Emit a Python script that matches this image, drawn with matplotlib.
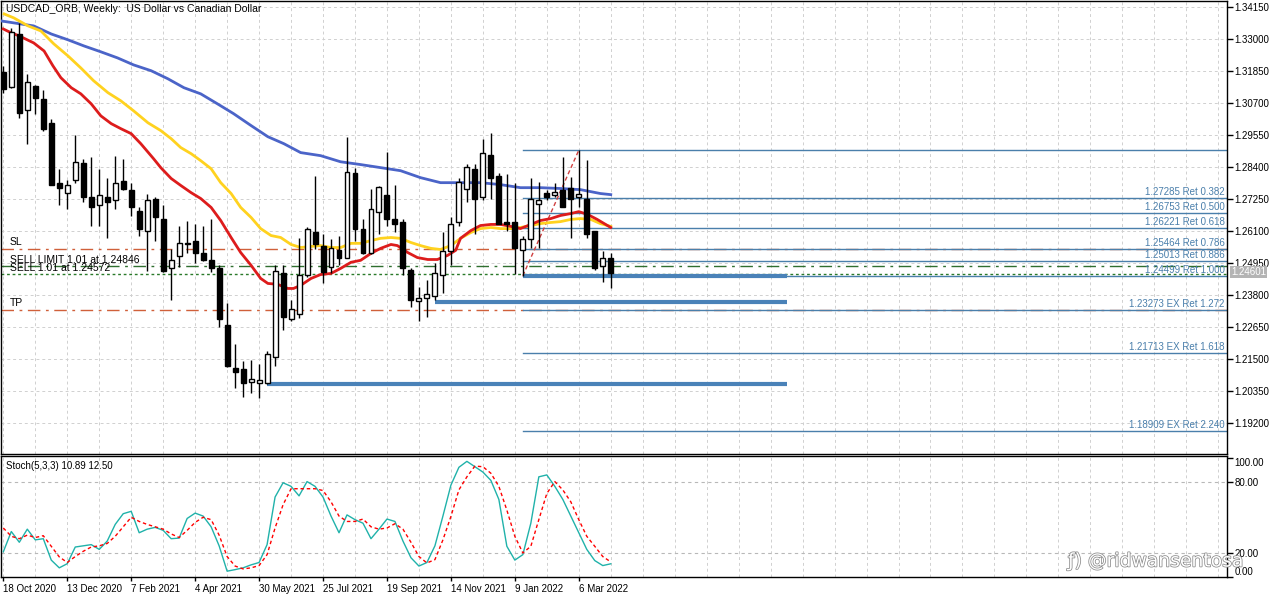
import matplotlib
matplotlib.use('Agg')
import matplotlib.pyplot as plt
from matplotlib.patches import Rectangle
import matplotlib.patheffects as pe

plt.rcParams['font.family'] = ['Liberation Sans', 'DejaVu Sans']

# ---------------- data ----------------
opens = [1.3182, 1.3128, 1.3318, 1.3046, 1.3132, 1.3085, 1.2999, 1.2781, 1.2748, 1.2795,
         1.2856, 1.2731, 1.2702, 1.2734, 1.2723, 1.2791, 1.2759, 1.2684, 1.2612, 1.2727,
         1.2655, 1.2476, 1.2519, 1.2569, 1.2573, 1.2533, 1.2505, 1.2476, 1.2272, 1.2118,
         1.2114, 1.2067, 1.2064, 1.2064, 1.2157, 1.2458, 1.2293, 1.2311, 1.2451, 1.2605,
         1.2555, 1.2480, 1.2541, 1.2515, 1.2820, 1.2619, 1.2530, 1.2677, 1.2738, 1.2652,
         1.2644, 1.2472, 1.2358, 1.2369, 1.2376, 1.2451, 1.2537, 1.2641, 1.2763, 1.2834,
         1.2731, 1.2885, 1.2809, 1.2641, 1.2644, 1.2541, 1.2580, 1.2709, 1.2748, 1.2738,
         1.2756, 1.2766, 1.2731, 1.2727, 1.2609, 1.2483, 1.2515]
highs = [1.3204, 1.3340, 1.3358, 1.3175, 1.3135, 1.3118, 1.3014, 1.2834, 1.2795, 1.2956,
         1.2870, 1.2877, 1.2834, 1.2799, 1.2881, 1.2870, 1.2781, 1.2695, 1.2745, 1.2734,
         1.2702, 1.2544, 1.2630, 1.2648, 1.2634, 1.2627, 1.2655, 1.2487, 1.2351, 1.2204,
         1.2143, 1.2146, 1.2132, 1.2179, 1.2487, 1.2487, 1.2361, 1.2587, 1.2625, 1.2809,
         1.2601, 1.2580, 1.2591, 1.2949, 1.2838, 1.2655, 1.2763, 1.2773, 1.2895, 1.2777,
         1.2655, 1.2476, 1.2408, 1.2433, 1.2494, 1.2605, 1.2662, 1.2802, 1.2852, 1.2852,
         1.2942, 1.2963, 1.2820, 1.2816, 1.2784, 1.2594, 1.2799, 1.2788, 1.2759, 1.2781,
         1.2877, 1.2806, 1.29007, 1.2867, 1.2612, 1.2537, 1.2530]
lows = [1.3107, 1.3125, 1.3017, 1.2924, 1.3032, 1.2971, 1.2774, 1.2705, 1.2688, 1.2784,
        1.2713, 1.2627, 1.2627, 1.2587, 1.2688, 1.2759, 1.2666, 1.2591, 1.2465, 1.2573,
        1.2462, 1.2361, 1.2480, 1.2530, 1.2494, 1.2501, 1.2462, 1.2265, 1.2121, 1.2046,
        1.2014, 1.2028, 1.2010, 1.2060, 1.2125, 1.2254, 1.2286, 1.2297, 1.2444, 1.2544,
        1.2422, 1.2458, 1.2487, 1.2512, 1.2576, 1.2526, 1.2526, 1.2601, 1.2630, 1.2605,
        1.2451, 1.2336, 1.2286, 1.2300, 1.2361, 1.2386, 1.2487, 1.2627, 1.2713, 1.2601,
        1.2720, 1.2727, 1.2634, 1.2612, 1.2455, 1.24499, 1.2551, 1.2551, 1.2720, 1.2734,
        1.2695, 1.2587, 1.2695, 1.2587, 1.2469, 1.2426, 1.2404]
closes = [1.3121, 1.3325, 1.3035, 1.3146, 1.3089, 1.2978, 1.2777, 1.2766, 1.2777, 1.2860,
          1.2731, 1.2695, 1.2741, 1.2716, 1.2784, 1.2763, 1.2698, 1.2619, 1.2723, 1.2659,
          1.2465, 1.2505, 1.2566, 1.2562, 1.2533, 1.2505, 1.2476, 1.2293, 1.2125, 1.2103,
          1.2064, 1.2078, 1.2075, 1.2168, 1.2465, 1.2300, 1.2329, 1.2451, 1.2619, 1.2562,
          1.2462, 1.2551, 1.2512, 1.2824, 1.2616, 1.2530, 1.2691, 1.2770, 1.2655, 1.2637,
          1.2476, 1.2361, 1.2369, 1.2383, 1.2458, 1.2537, 1.2637, 1.2788, 1.2842, 1.2727,
          1.2892, 1.2802, 1.2637, 1.2634, 1.2548, 1.2580, 1.2727, 1.2720, 1.2731, 1.2752,
          1.2698, 1.2727, 1.2745, 1.2601, 1.2476, 1.2512, 1.24601]

red_x = [0, 1, 2, 3, 3.8, 5.1, 6.2, 7.2, 8.5, 9.7, 11, 12.2, 13.5, 14.7, 16, 17.2, 18.8, 19.7,
         21, 22.2, 23.5, 24.7, 26, 27.2, 28.5, 29.7, 31, 32.2, 33.1, 34.3, 35.6, 36.3, 37.2,
         38.5, 39.7, 41, 42.2, 43.5, 44.7, 46, 47.2, 48.5, 49.3, 50.6, 51.8, 53.1, 54.3, 55.6,
         56.6, 57.2, 58.5, 59.7, 61, 62.2, 63.5, 64.7, 66, 67.2, 68.5, 69.7, 71, 72, 73.1,
         74.3, 76]
red_p = [1.3336, 1.3322, 1.3311, 1.3297, 1.3286, 1.3257, 1.3204, 1.3161, 1.3125, 1.3103,
         1.3067, 1.3024, 1.2996, 1.2978, 1.2960, 1.2924, 1.2870, 1.2838, 1.2799, 1.2774,
         1.2748, 1.2727, 1.2695, 1.2648, 1.2587, 1.2533, 1.2487, 1.2440, 1.2422, 1.2419,
         1.2404, 1.2404, 1.2415, 1.2440, 1.2454, 1.2458, 1.2476, 1.2498, 1.2505, 1.2530,
         1.2548, 1.2562, 1.2558, 1.2533, 1.2515, 1.2508, 1.2508, 1.2523, 1.2541, 1.2584,
         1.2612, 1.2630, 1.2634, 1.2634, 1.2627, 1.2619, 1.2634, 1.2648, 1.2655, 1.2666,
         1.2673, 1.2680, 1.2670, 1.2652, 1.2623]

yel_x = [0.1, 1.3, 3.1, 4.7, 6.3, 8.1, 9.7, 11.3, 13.1, 14.7, 16.3, 18.1, 19.7, 21, 22.2,
         23.5, 24.7, 26, 27.2, 28.5, 29.7, 31, 32.2, 33.5, 34.7, 36, 37.2, 38.5, 39.7, 41,
         42.2, 43.5, 44.7, 46, 47.2, 48.5, 49.7, 51, 52.2, 53.5, 54.7, 56, 57.2, 58.5, 59.7,
         61, 62.2, 63.5, 64.7, 66, 67.2, 68.5, 69.7, 71, 72.2, 73.5, 74.7, 76]
yel_p = [1.3390, 1.3376, 1.3347, 1.3329, 1.3283, 1.3239, 1.3196, 1.3150, 1.3107, 1.3078,
         1.3042, 1.2999, 1.2971, 1.2942, 1.2910, 1.2888, 1.2863, 1.2834, 1.2784, 1.2745,
         1.2695, 1.2659, 1.2619, 1.2594, 1.2587, 1.2562, 1.2551, 1.2555, 1.2558, 1.2551,
         1.2551, 1.2566, 1.2566, 1.2576, 1.2584, 1.2587, 1.2584, 1.2569, 1.2558, 1.2548,
         1.2544, 1.2558, 1.2584, 1.2605, 1.2619, 1.2623, 1.2619, 1.2619, 1.2623, 1.2630,
         1.2637, 1.2641, 1.2644, 1.2652, 1.2655, 1.2652, 1.2637, 1.2627]

blue_x = [-0.3, 2.2, 3.8, 6, 8.1, 10.1, 12.2, 14.3, 16.3, 18.5, 20.6, 22.6, 24.7, 26.8, 28.8,
          31, 33.1, 35.1, 37.2, 39.7, 42.2, 44.7, 47.2, 49.7, 52.2, 54.7, 57.2, 59.7, 62.2,
          64.7, 67.2, 69.7, 72.2, 74.7, 76]
blue_p = [1.3365, 1.3354, 1.3347, 1.3318, 1.3297, 1.3275, 1.3254, 1.3232, 1.3207, 1.3186,
          1.3157, 1.3125, 1.3103, 1.3067, 1.3032, 1.2989, 1.2949, 1.2924, 1.2892, 1.2881,
          1.2859, 1.2849, 1.2838, 1.2827, 1.2802, 1.2784, 1.2784, 1.2784, 1.2777, 1.2766,
          1.2766, 1.2763, 1.2759, 1.2745, 1.2741]

stoch_k = [21, 38, 29, 40, 31, 32, 14, 7.5, 11, 25, 26, 27, 23, 30, 44, 53, 55, 37, 40, 41.5,
           39, 32, 32.5, 49, 53.5, 51, 42, 26, 4.7, 6, 7.5, 10, 12, 27, 67, 79, 76, 68, 80, 76,
           67, 51, 37, 52, 48, 45, 32, 40, 48.5, 46.5, 30, 16, 9, 12, 26, 51, 77, 92, 97, 92.5,
           88, 81, 65, 25.6, 14, 18.6, 45, 84, 85.6, 76, 65, 51, 37, 23, 13.6, 9.4, 10.89]
stoch_d = [41, 34, 32, 35, 33, 34.5, 25.6, 16.7, 12, 17, 21.4, 25, 26, 28, 34, 42, 50, 46.5,
           44, 42, 40, 36, 33, 39, 45.7, 50, 48, 35, 17, 9, 6.6, 7.5, 9.4, 18.6, 41, 60.5, 74,
           74, 74, 74, 72.5, 63, 51, 46.5, 46.5, 48.5, 42, 40, 41, 44.6, 40, 29, 17, 11.6, 14.4,
           31, 50.7, 73, 84, 93, 92.5, 87, 76, 56, 34, 20, 25.6, 48, 70, 80, 73, 63, 48, 34,
           25.6, 17, 12.5]

date_bars = [0, 8, 16, 24, 32, 40, 48, 56, 64, 72]
date_labels = ['18 Oct 2020', '13 Dec 2020', '7 Feb 2021', '4 Apr 2021', '30 May 2021',
               '25 Jul 2021', '19 Sep 2021', '14 Nov 2021', '9 Jan 2022', '6 Mar 2022']

price_ticks = [1.19200, 1.20350, 1.21500, 1.22650, 1.23800, 1.24950, 1.26100, 1.27250,
               1.28400, 1.29550, 1.30700, 1.31850, 1.33000, 1.34150]

fib_start_bar = 65
fib_end_bar = 72
fib_levels = [1.29007, 1.27285, 1.26753, 1.26221, 1.25464, 1.25013, 1.24499,
              1.23273, 1.21713, 1.18909]
fib_labels = ['', '1.27285 Ret 0.382', '1.26753 Ret 0.500', '1.26221 Ret 0.618',
              '1.25464 Ret 0.786', '1.25013 Ret 0.886', '1.24499 Ret 1.000',
              '1.23273 EX Ret 1.272', '1.21713 EX Ret 1.618', '1.18909 EX Ret 2.240']

thick_levels = [1.24499, 1.2354, 1.2060]
thick_start = [65, 54, 33]
thick_end = 98

sl_price = 1.25464
tp_price = 1.23273
sell_limit_price = 1.24846
sell_price = 1.24572
current_price = 1.24601

# ---------------- figure ----------------
W, H = 1280, 598
fig = plt.figure(figsize=(W / 100, H / 100), dpi=100)
fig.patch.set_facecolor('white')
ax = fig.add_axes([1 / W, 1 - 454 / H, 1226 / W, 453 / H])
ax2 = fig.add_axes([1 / W, 1 - 577 / H, 1226 / W, 121 / H])

XMIN, XMAX = -0.29, 153.1
grid_kw = dict(color='#d0d0d0', lw=0.7, ls=(0, (3, 3)), zorder=0)

# main panel
ax.set_xlim(XMIN, XMAX)
ax.set_ylim(1.18094, 1.34365)
for b in range(0, 156, 4):
    ax.axvline(b, **grid_kw)
    ax2.axvline(b, **grid_kw)
for p in price_ticks:
    ax.axhline(p, **grid_kw)

# order lines
ax.axhline(sl_price, color='#d0603a', lw=1, ls=(0, (9, 4, 2, 4)), zorder=1)
ax.axhline(tp_price, color='#d0603a', lw=1, ls=(0, (9, 4, 2, 4)), zorder=1)
ax.axhline(sell_limit_price, color='#2f6f2f', lw=1, ls=(0, (9, 4, 2, 4)), zorder=1)
ax.axhline(sell_price, color='#2a7a2a', lw=1, ls=(0, (2, 2)), zorder=1)

# fib
for lv, lb in zip(fib_levels, fib_labels):
    ax.plot([fib_start_bar, XMAX], [lv, lv], color='#4a7fab', lw=1, zorder=2)
    if lb:
        ax.text(XMAX - 0.3, lv + 0.0004, lb, ha='right', va='bottom', fontsize=7,
                color='#4a7fab', zorder=5)
ax.plot([fib_start_bar, fib_end_bar], [fib_levels[6], fib_levels[0]], color='#d04040',
        lw=1, ls=(0, (3, 2)), zorder=3)
for lv, s in zip(thick_levels, thick_start):
    ax.plot([s, thick_end], [lv, lv], color='#4a82b8', lw=3, zorder=2,
            solid_capstyle='butt')

# MAs
ax.plot(blue_x, blue_p, color='#4b64c8', lw=2, zorder=3)
ax.plot(yel_x, yel_p, color='#ffd21f', lw=2, zorder=3)
ax.plot(red_x, red_p, color='#dd1c1c', lw=2, zorder=3)

# candles
for i, (o, h, l, c) in enumerate(zip(opens, highs, lows, closes)):
    ax.plot([i, i], [l, h], color='black', lw=1, zorder=4, solid_capstyle='butt')
    bottom = min(o, c)
    height = max(abs(c - o), 0.00005)
    fc = 'white' if c > o else 'black'
    ax.add_patch(Rectangle((i - 0.31, bottom), 0.62, height, facecolor=fc,
                           edgecolor='black', lw=1, zorder=4))

ax.yaxis.tick_right()
ax.set_yticks(price_ticks)
ax.set_yticklabels(['%.5f' % p for p in price_ticks])
ax.tick_params(axis='y', direction='out', length=4, width=1, labelsize=7, pad=1.5,
               colors='black')
ax.set_xticks([])
for s in ax.spines.values():
    s.set_color('black')
    s.set_linewidth(1)

# stoch panel
ax2.set_xlim(XMIN, XMAX)
ax2.set_ylim(-0.2, 101.5)
ax2.axhline(80, color='#b8b8b8', lw=0.8, ls=(0, (3, 3)), zorder=1)
ax2.axhline(20, color='#b8b8b8', lw=0.8, ls=(0, (3, 3)), zorder=1)
bars = list(range(len(stoch_k)))
ax2.plot(bars, stoch_k, color='#20b2aa', lw=1, zorder=3)
ax2.plot(bars, stoch_d, color='#ff0000', lw=1, ls=(0, (2.5, 2)), zorder=3)
ax2.yaxis.tick_right()
ax2.set_yticks([0, 20, 80, 100])
ax2.set_yticklabels(['0.00', '20.00', '80.00', '100.00'])
ax2.tick_params(axis='y', direction='out', length=4, width=1, labelsize=7, pad=1.5)
yl = ax2.get_yticklabels()
yl[0].set_va('bottom')
yl[3].set_va('top')
ax2.set_xticks(date_bars)
ax2.set_xticklabels(date_labels)
ax2.tick_params(axis='x', direction='out', length=3, width=1, labelsize=7, pad=2)
for lbl in ax2.get_xticklabels():
    lbl.set_ha('left')
for s in ax2.spines.values():
    s.set_color('black')
    s.set_linewidth(1)

# texts
fig.text(6 / W, 1 - 9 / H, 'USDCAD_ORB, Weekly:  US Dollar vs Canadian Dollar',
         fontsize=7.5, va='center', ha='left')
fig.text(6 / W, 1 - 466 / H, 'Stoch(5,3,3) 10.89 12.50', fontsize=7, va='center', ha='left')
ax.text(0.8, sl_price + 0.0008, 'SL', fontsize=7.5, va='bottom', ha='left')
ax.text(0.8, sell_limit_price + 0.0003, 'SELL LIMIT 1.01 at 1.24846', fontsize=7.5,
        va='bottom', ha='left')
ax.text(0.8, sell_price + 0.0003, 'SELL 1.01 at 1.24572', fontsize=7.5, va='bottom', ha='left')
ax.text(0.8, tp_price + 0.0008, 'TP', fontsize=7.5, va='bottom', ha='left')

# current price box
fig.text(1231 / W, 1 - 272 / H, '%.5f' % current_price, fontsize=7, color='white',
         va='center', ha='left',
         bbox=dict(boxstyle='square,pad=0.15', facecolor='#b4b4b4', edgecolor='none'))

# watermark
fig.text(1068 / W, 1 - 561 / H, 'ƒ) @ridwansentosa', fontsize=13.5, color='white',
         va='center', ha='left', family='DejaVu Sans',
         path_effects=[pe.withStroke(linewidth=1.1, foreground='#8a8a8a')])

fig.savefig('out.png', dpi=100, facecolor='white')
